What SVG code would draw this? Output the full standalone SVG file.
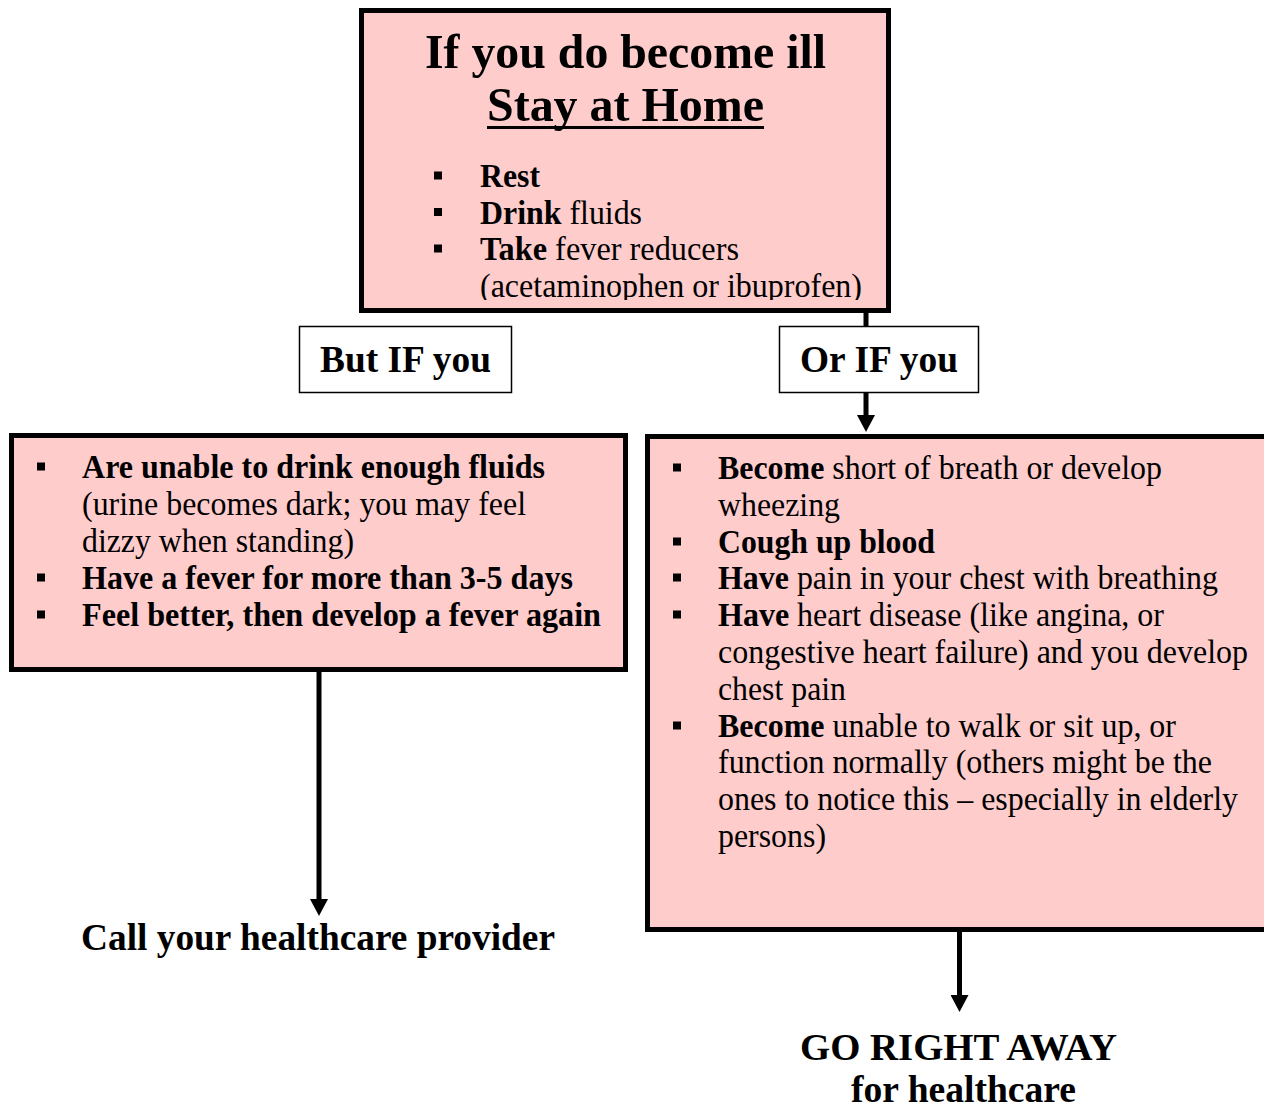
<svg xmlns="http://www.w3.org/2000/svg" width="1264" height="1109" viewBox="0 0 1264 1109">
<style>
text{font-family:"Liberation Serif","Times New Roman",serif;fill:#000}
.b{font-weight:bold}
.t{font-size:49px;font-weight:bold}
.body{font-size:34px}
.lab{font-size:38px;font-weight:bold}
.pink{fill:#FFCCCC;stroke:#000;stroke-width:5}
.white{fill:#fff;stroke:#000;stroke-width:1.5}
.conn{stroke:#000;stroke-width:5;fill:none}
.bul{fill:#000}
</style>
<defs>
<marker id="ah" markerUnits="userSpaceOnUse" markerWidth="18" markerHeight="18" viewBox="0 0 18 18" refX="0" refY="9" orient="auto">
<path d="M0,0 L17,9 L0,18 z" fill="#000"/>
</marker>
<clipPath id="topclip"><rect x="364" y="13" width="522" height="287"/></clipPath>
</defs>
<rect width="1264" height="1109" fill="#fff"/>

<g id="connectors">
<line class="conn" x1="866" y1="312" x2="866" y2="327"/>
<line class="conn" x1="866" y1="393" x2="866" y2="415" marker-end="url(#ah)"/>
<line class="conn" x1="319" y1="671" x2="319" y2="899" marker-end="url(#ah)"/>
<line class="conn" x1="959.5" y1="931" x2="959.5" y2="995" marker-end="url(#ah)"/>
</g>

<g id="node-stay-home">
<rect class="pink" x="361.5" y="10.5" width="527" height="300"/>
<text class="t" x="425" y="68" textLength="401" lengthAdjust="spacingAndGlyphs">If you do become ill</text>
<text class="t" x="487" y="121" textLength="277" lengthAdjust="spacingAndGlyphs">Stay at Home</text>
<rect x="487" y="126" width="277" height="3" fill="#000"/>
<g clip-path="url(#topclip)">
<rect class="bul" x="434" y="171.5" width="8" height="8"/>
<rect class="bul" x="434" y="208" width="8" height="8"/>
<rect class="bul" x="434" y="244.5" width="8" height="8"/>
<text class="body b" x="480" y="187" textLength="60" lengthAdjust="spacingAndGlyphs">Rest</text>
<text class="body" x="480" y="223.5" textLength="162" lengthAdjust="spacingAndGlyphs"><tspan class="b">Drink</tspan> fluids</text>
<text class="body" x="480" y="260" textLength="259" lengthAdjust="spacingAndGlyphs"><tspan class="b">Take</tspan> fever reducers</text>
<text class="body" x="480" y="297" textLength="382" lengthAdjust="spacingAndGlyphs">(acetaminophen or ibuprofen)</text>
</g>
</g>

<g id="node-but-if">
<rect class="white" x="299.5" y="326.5" width="212" height="66"/>
<text class="lab" x="320" y="372" textLength="171" lengthAdjust="spacingAndGlyphs">But IF you</text>
</g>

<g id="node-or-if">
<rect class="white" x="779.5" y="326.5" width="199" height="66"/>
<text class="lab" x="800" y="372" textLength="158" lengthAdjust="spacingAndGlyphs">Or IF you</text>
</g>

<g id="node-left">
<rect class="pink" x="11.5" y="435.5" width="614" height="234"/>
<rect class="bul" x="37" y="462.5" width="8" height="8"/>
<rect class="bul" x="37" y="573.5" width="8" height="8"/>
<rect class="bul" x="37" y="610.5" width="8" height="8"/>
<text class="body b" x="82" y="478" textLength="463" lengthAdjust="spacingAndGlyphs">Are unable to drink enough fluids</text>
<text class="body" x="82" y="515" textLength="444" lengthAdjust="spacingAndGlyphs">(urine becomes dark; you may feel</text>
<text class="body" x="82" y="552" textLength="272" lengthAdjust="spacingAndGlyphs">dizzy when standing)</text>
<text class="body b" x="82" y="589" textLength="491" lengthAdjust="spacingAndGlyphs">Have a fever for more than 3-5 days</text>
<text class="body b" x="82" y="626" textLength="519" lengthAdjust="spacingAndGlyphs">Feel better, then develop a fever again</text>
</g>

<g id="node-right">
<rect class="pink" x="647.5" y="436.5" width="622" height="493"/>
<rect class="bul" x="673" y="463.5" width="8" height="8"/>
<rect class="bul" x="673" y="537.5" width="8" height="8"/>
<rect class="bul" x="673" y="573.5" width="8" height="8"/>
<rect class="bul" x="673" y="610.5" width="8" height="8"/>
<rect class="bul" x="673" y="721.5" width="8" height="8"/>
<text class="body" x="718" y="479" textLength="444" lengthAdjust="spacingAndGlyphs"><tspan class="b">Become</tspan> short of breath or develop</text>
<text class="body" x="718" y="516" textLength="122" lengthAdjust="spacingAndGlyphs">wheezing</text>
<text class="body b" x="718" y="553" textLength="217" lengthAdjust="spacingAndGlyphs">Cough up blood</text>
<text class="body" x="718" y="589" textLength="500" lengthAdjust="spacingAndGlyphs"><tspan class="b">Have</tspan> pain in your chest with breathing</text>
<text class="body" x="718" y="626" textLength="446" lengthAdjust="spacingAndGlyphs"><tspan class="b">Have</tspan> heart disease (like angina, or</text>
<text class="body" x="718" y="663" textLength="530" lengthAdjust="spacingAndGlyphs">congestive heart failure) and you develop</text>
<text class="body" x="718" y="700" textLength="128" lengthAdjust="spacingAndGlyphs">chest pain</text>
<text class="body" x="718" y="737" textLength="458" lengthAdjust="spacingAndGlyphs"><tspan class="b">Become</tspan> unable to walk or sit up, or</text>
<text class="body" x="718" y="773" textLength="494" lengthAdjust="spacingAndGlyphs">function normally (others might be the</text>
<text class="body" x="718" y="810" textLength="520" lengthAdjust="spacingAndGlyphs">ones to notice this – especially in elderly</text>
<text class="body" x="718" y="847" textLength="108" lengthAdjust="spacingAndGlyphs">persons)</text>
</g>

<g id="node-call">
<text class="lab" x="81" y="950" textLength="474" lengthAdjust="spacingAndGlyphs">Call your healthcare provider</text>
</g>

<g id="node-go">
<text class="lab" x="800" y="1060" textLength="317" lengthAdjust="spacingAndGlyphs">GO RIGHT AWAY</text>
<text class="lab" x="851" y="1102" textLength="225" lengthAdjust="spacingAndGlyphs">for healthcare</text>
</g>
</svg>
